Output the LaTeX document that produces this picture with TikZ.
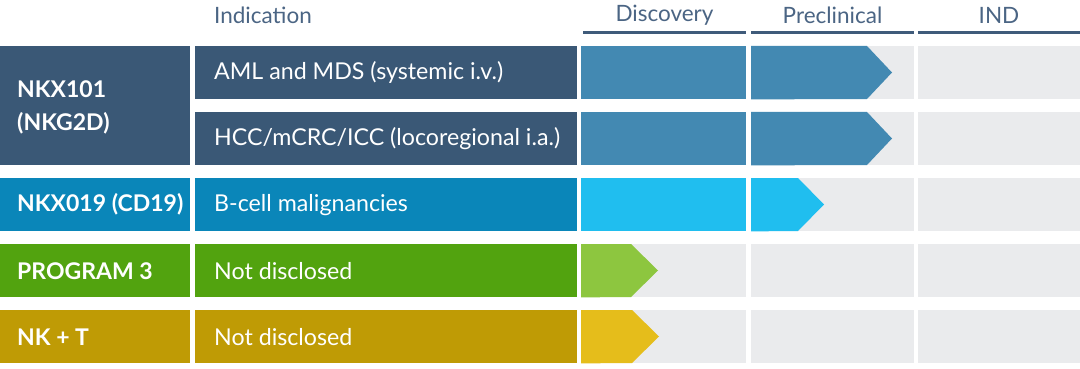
\documentclass[tikz,border=0pt]{standalone}
\usepackage{fontspec}
\setmainfont{Lato}
\usetikzlibrary{positioning}
\definecolor{Slate}{HTML}{3A5876}
\definecolor{SlateLight}{HTML}{4389B2}
\definecolor{Ocean}{HTML}{0A86B9}
\definecolor{Sky}{HTML}{20BEEF}
\definecolor{Leaf}{HTML}{52A30F}
\definecolor{LeafLight}{HTML}{8DC63F}
\definecolor{Mustard}{HTML}{BF9B05}
\definecolor{MustardLight}{HTML}{E5BD1B}
\definecolor{Cell}{HTML}{EAEBED}
\definecolor{HeadInk}{HTML}{4B6584}
\definecolor{HeadRule}{HTML}{3F5B7A}

\begin{document}
\begin{tikzpicture}[x=1pt, y=-1pt,
          font=\fontsize{23.2}{28}\selectfont,
          block/.style={anchor=north west, inner sep=0pt, minimum height=53pt},
          prog/.style={block, minimum width=190pt},
          indic/.style={block, minimum width=382pt},
          disc/.style={block, minimum width=165pt, fill=Cell},
          precl/.style={block, minimum width=163pt, fill=Cell},
          ind/.style={block, minimum width=162pt, fill=Cell},
          celltext/.style={anchor=west, inner sep=0pt, text=white, align=left},
          progtext/.style={celltext, font=\fontsize{23}{33}\selectfont\bfseries},
          head/.style={inner sep=0pt, text=HeadInk, font=\fontsize{22.5}{27}\selectfont},
          headrule/.style={line width=3pt, draw=HeadRule}
        ]
          \fill[white] (0,0) rectangle (1080,369);
          \useasboundingbox (0,0) rectangle (1080,369);

          % header
          \node[head, anchor=west] (hind) at (214,15) {Indication};
          \node[head] (hdisc) at (664.5,15) {Discovery};
          \node[head] (hprecl) at (832.5,15) {Preclinical};
          \node[head] (hnd) at (999,15) {IND};
          \draw[headrule] (583,33) -- (746,33);
          \draw[headrule] (751,33) -- (914,33);
          \draw[headrule] (918,33) -- (1080,33);

          % NKX101, two indications
          \node[prog, minimum height=119pt, fill=Slate] (p1) at (0,46) {};
          \node[progtext, right=17pt of p1.west, yshift=-2pt] {NKX101\\(NKG2D)};
          \node[indic, fill=Slate] (i1) at (195,46) {};
          \node[celltext, right=19pt of i1.west] {AML and MDS (systemic i.v.)};
          \node[disc, fill=SlateLight] (d1) at (581,46) {};
          \node[precl] (c1) at (751,46) {};
          \node[ind] (n1) at (918,46) {};
          \fill[SlateLight] (c1.north west) -- ++(116,0) -- ++(25,26.5) -- ++(-25,26.5) -- (c1.south west) -- cycle;

          \node[indic, fill=Slate] (i2) at (195,112) {};
          \node[celltext, right=19pt of i2.west] {HCC/mCRC/ICC (locoregional i.a.)};
          \node[disc, fill=SlateLight] (d2) at (581,112) {};
          \node[precl] (c2) at (751,112) {};
          \node[ind] (n2) at (918,112) {};
          \fill[SlateLight] (c2.north west) -- ++(116,0) -- ++(25,26.5) -- ++(-25,26.5) -- (c2.south west) -- cycle;

          % NKX019
          \node[prog, fill=Ocean] (p3) at (0,178) {};
          \node[progtext, right=17pt of p3.west] {NKX019 (CD19)};
          \node[indic, fill=Ocean] (i3) at (195,178) {};
          \node[celltext, right=19pt of i3.west] {B-cell malignancies};
          \node[disc, fill=Sky] (d3) at (581,178) {};
          \node[precl] (c3) at (751,178) {};
          \node[ind] (n3) at (918,178) {};
          \fill[Sky] (c3.north west) -- ++(47,0) -- ++(26,26.5) -- ++(-26,26.5) -- (c3.south west) -- cycle;

          % program 3
          \node[prog, fill=Leaf] (p4) at (0,244) {};
          \node[progtext, right=17pt of p4.west] {PROGRAM 3};
          \node[indic, fill=Leaf] (i4) at (195,244) {};
          \node[celltext, right=19pt of i4.west] {Not disclosed};
          \node[disc] (d4) at (581,244) {};
          \node[precl] (c4) at (751,244) {};
          \node[ind] (n4) at (918,244) {};
          \fill[LeafLight] (d4.north west) -- ++(50,0) -- ++(27,26.5) -- ++(-27,26.5) -- (d4.south west) -- cycle;

          % NK + T
          \node[prog, fill=Mustard] (p5) at (0,310) {};
          \node[progtext, right=17pt of p5.west] {NK + T};
          \node[indic, fill=Mustard] (i5) at (195,310) {};
          \node[celltext, right=19pt of i5.west] {Not disclosed};
          \node[disc] (d5) at (581,310) {};
          \node[precl] (c5) at (751,310) {};
          \node[ind] (n5) at (918,310) {};
          \fill[MustardLight] (d5.north west) -- ++(51,0) -- ++(27,26.5) -- ++(-27,26.5) -- (d5.south west) -- cycle;
        \end{tikzpicture}
\end{document}
